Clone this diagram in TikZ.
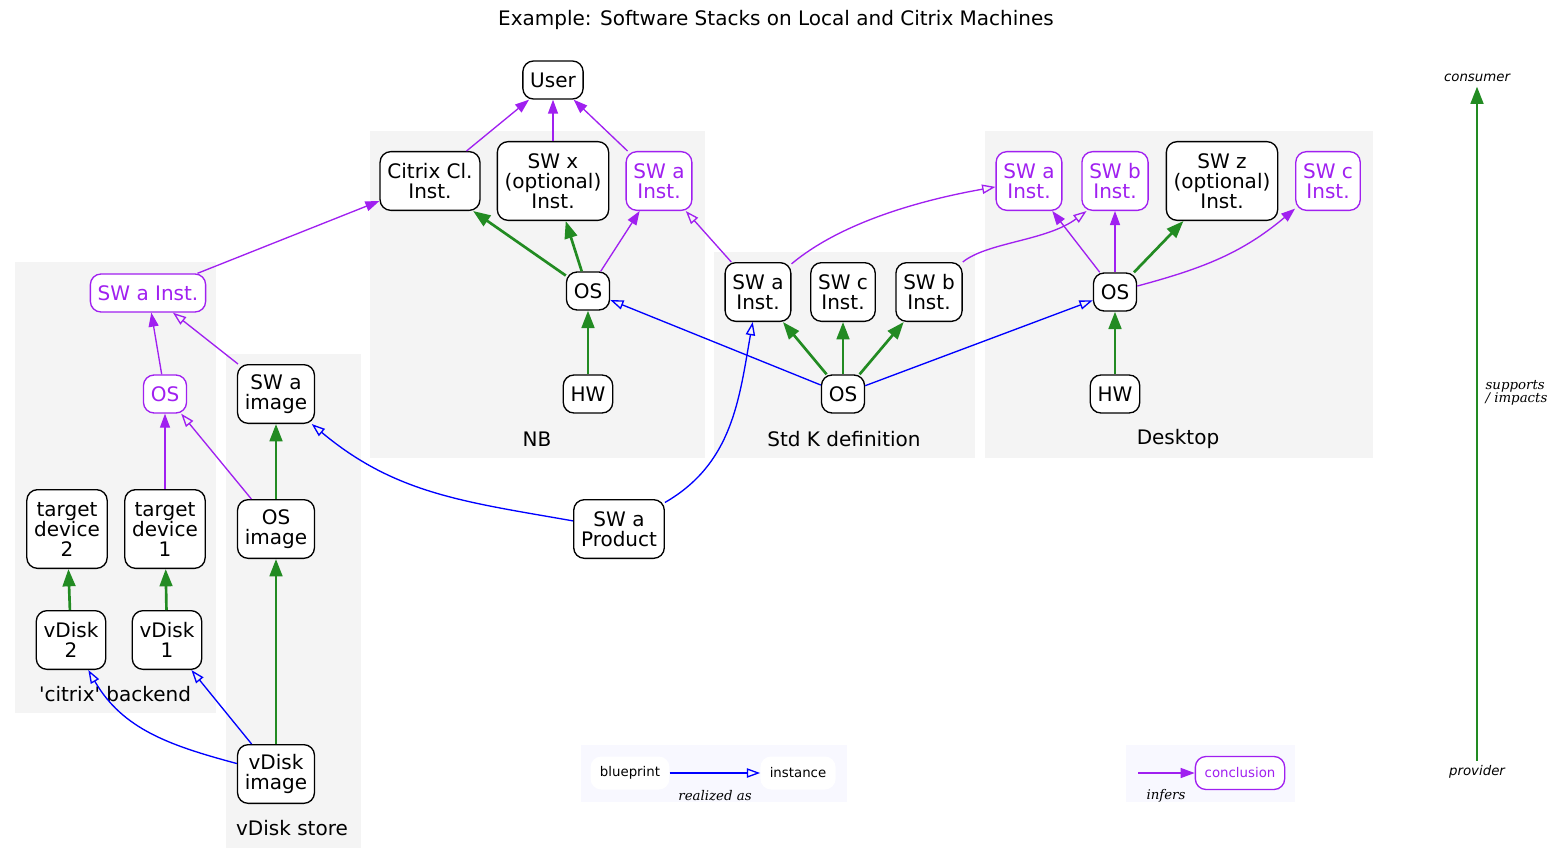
\documentclass[tikz,border=0pt]{standalone}
\usepackage{fontspec}
\setmainfont{DejaVu Sans}
\newfontfamily\plainsans{DejaVu Sans}
\newfontfamily\labelserif{DejaVu Serif}
\usetikzlibrary{arrows.meta}
\definecolor{infercol}{HTML}{A020F0}
\definecolor{supcol}{HTML}{228B22}
\definecolor{realcol}{HTML}{0000FF}
\definecolor{clustcol}{HTML}{F4F4F4}
\definecolor{legcol}{HTML}{F8F8FF}
\tikzset{%
    box/.style={draw, fill=white, rounded corners=8pt, align=center,
        inner xsep=5.5pt, inner ysep=0pt, line width=1pt,
        font=\fontsize{15}{15}\selectfont},
    oneline/.style={minimum height=28.5pt},
    twoline/.style={minimum height=44pt},
    threeline/.style={minimum height=59pt},
    inferbox/.style={box, draw=infercol, text=infercol},
    legbox/.style={fill=white, rounded corners=8pt, inner xsep=7pt,
        minimum height=24.75pt, font=\fontsize{10}{12}\selectfont},
    cluster/.style={fill=clustcol},
    legendbg/.style={fill=legcol},
    clabel/.style={font=\fontsize{15}{15}\selectfont},
    edgelbl/.style={font=\labelserif\itshape\fontsize{10}{10}\selectfont,
        inner sep=1pt},
    sidelbl/.style={font=\itshape\fontsize{10}{12}\selectfont},
    supports/.style={draw=supcol, line width=2pt,
        -{Triangle[length=13pt, width=9.5pt]}},
    infers/.style={draw=infercol, line width=1pt,
        -{Triangle[length=10.5pt, width=7.5pt]}},
    infersopen/.style={draw=infercol, line width=1pt,
        -{Triangle[open, length=10pt, width=7pt]}},
    realized/.style={draw=realcol, line width=1pt,
        -{Triangle[open, length=10pt, width=7pt]}}
}

\begin{document}
\begin{tikzpicture}[x=0.75pt, y=-0.75pt]
  \useasboundingbox (0,0) rectangle (1552,863);

  \node (title) [clabel] at (776,20)
    {Example: Software Stacks on Local and Citrix Machines};

  % clusters
  \path[cluster] (15,262) rectangle (216,713);
  \path[cluster] (226,354) rectangle (361,848);
  \path[cluster] (370,131) rectangle (705,458);
  \path[cluster] (714,252) rectangle (975,458);
  \path[cluster] (985,131) rectangle (1373,458);
  \path[legendbg] (581,745) rectangle (847,802);
  \path[legendbg] (1126,745) rectangle (1295,802);

  \node (ctxlbl) [clabel] at (115,694) {\plainsans 'citrix' backend};
  \node (vdslbl) [clabel] at (292,828) {vDisk store};
  \node (nblbl) [clabel] at (537,439) {NB};
  \node (stklbl) [clabel] at (844,439) {Std K definition};
  \node (dsklbl) [clabel] at (1178,439) {Desktop};

  % NB
  \node (user) [box, oneline] at (553,80) {User};
  \node (citcl) [box, twoline] at (430,181) {Citrix Cl.\\Inst.};
  \node (nbswx) [box, threeline] at (553,181) {SW x\\(optional)\\Inst.};
  \node (nbswa) [inferbox, twoline] at (659,181) {SW a\\Inst.};
  \node (nbos) [box, oneline] at (588,291) {OS};
  \node (nbhw) [box, oneline] at (588,394) {HW};

  % Std K definition
  \node (stkswa) [box, twoline] at (758,292) {SW a\\Inst.};
  \node (stkswc) [box, twoline] at (843,292) {SW c\\Inst.};
  \node (stkswb) [box, twoline] at (929,292) {SW b\\Inst.};
  \node (stkos) [box, oneline] at (843,394) {OS};

  % Desktop
  \node (dskswa) [inferbox, twoline] at (1029,181) {SW a\\Inst.};
  \node (dskswb) [inferbox, twoline] at (1115,181) {SW b\\Inst.};
  \node (dskswz) [box, threeline] at (1222,181) {SW z\\(optional)\\Inst.};
  \node (dskswc) [inferbox, twoline] at (1328,181) {SW c\\Inst.};
  \node (dskos) [box, oneline] at (1115,292) {OS};
  \node (dskhw) [box, oneline] at (1115,394) {HW};

  % citrix backend
  \node (ctxswa) [inferbox, oneline] at (148,293) {SW a Inst.};
  \node (ctxos) [inferbox, oneline] at (165,394) {OS};
  \node (td2) [box, threeline] at (67,529) {target\\device\\2};
  \node (td1) [box, threeline] at (165,529) {target\\device\\1};
  \node (vd2) [box, twoline] at (71,640) {vDisk\\2};
  \node (vd1) [box, twoline] at (167,640) {vDisk\\1};

  % vDisk store
  \node (swaimg) [box, twoline] at (276,394) {SW a\\image};
  \node (osimg) [box, twoline] at (276,529) {OS\\image};
  \node (vdimg) [box, twoline] at (276,774) {vDisk\\image};

  \node (prod) [box, twoline] at (619,529) {SW a\\Product};

  % legend
  \node (blueprint) [legbox] at (630,773) {blueprint};
  \node (instance) [legbox] at (798,773) {instance};
  \node (realizedlbl) [edgelbl] at (715,796) {realized as};
  \coordinate (inferfrom) at (1138,773);
  \node (concl) [legbox, draw=infercol, text=infercol, line width=1pt]
    at (1240,773) {conclusion};
  \node (inferslbl) [edgelbl] at (1166,796) {infers};
  \node (consumer) [sidelbl] at (1477,78) {consumer};
  \node (provider) [sidelbl] at (1477,772) {provider};
  \node (supportslbl) [edgelbl, anchor=west, align=left] at (1484,393)
    {supports\\/ impacts};

  \draw (citcl) edge [infers] (user);
  \draw (nbswx) edge [infers] (user);
  \draw (nbswa) edge [infers] (user);
  \draw (nbos) edge [infers] (nbswa);
  \draw (nbos) edge [supports] (citcl);
  \draw (nbos) edge [supports] (nbswx);
  \draw (nbhw) edge [supports] (nbos);

  \draw (stkos) edge [supports] (stkswa);
  \draw (stkos) edge [supports] (stkswc);
  \draw (stkos) edge [supports] (stkswb);
  \draw (stkos) edge [realized] (nbos);
  \draw (stkos) edge [realized] (dskos);
  \draw (stkswa) edge [infersopen] (nbswa);
  \draw (stkswa) edge [infersopen, out=40, in=190, looseness=0.8] (dskswa);
  \draw[infersopen] (stkswb.north east) .. controls +(25,-20) and +(-40,30)
    .. ([xshift=4pt]dskswb.south west);

  \draw (dskos) edge [infers] (dskswa);
  \draw (dskos) edge [infers] (dskswb);
  \draw (dskos) edge [supports] (dskswz);
  \draw (dskos) edge [infers, out=15, in=-140] (dskswc);
  \draw (dskhw) edge [supports] (dskos);

  \draw (ctxswa) edge [infers] (citcl);
  \draw (ctxos) edge [infers] (ctxswa);
  \draw (td1) edge [infers] (ctxos);
  \draw (swaimg) edge [infersopen] (ctxswa);
  \draw (osimg) edge [infersopen] (ctxos);
  \draw (vd2) edge [supports] (td2);
  \draw (vd1) edge [supports] (td1);

  \draw (osimg) edge [supports] (swaimg);
  \draw (vdimg) edge [supports] (osimg);
  \draw (vdimg) edge [realized] (vd1);
  \draw (vdimg) edge [realized, out=165, in=-60] (vd2);

  \draw (prod) edge [realized, out=30, in=-100] (stkswa);
  \draw (prod) edge [realized, out=170, in=-40] (swaimg);

  \draw (blueprint) edge [realized] (instance);
  \draw (inferfrom) edge [infers] (concl);
  \draw (provider) edge [supports] (consumer);
\end{tikzpicture}
\end{document}
